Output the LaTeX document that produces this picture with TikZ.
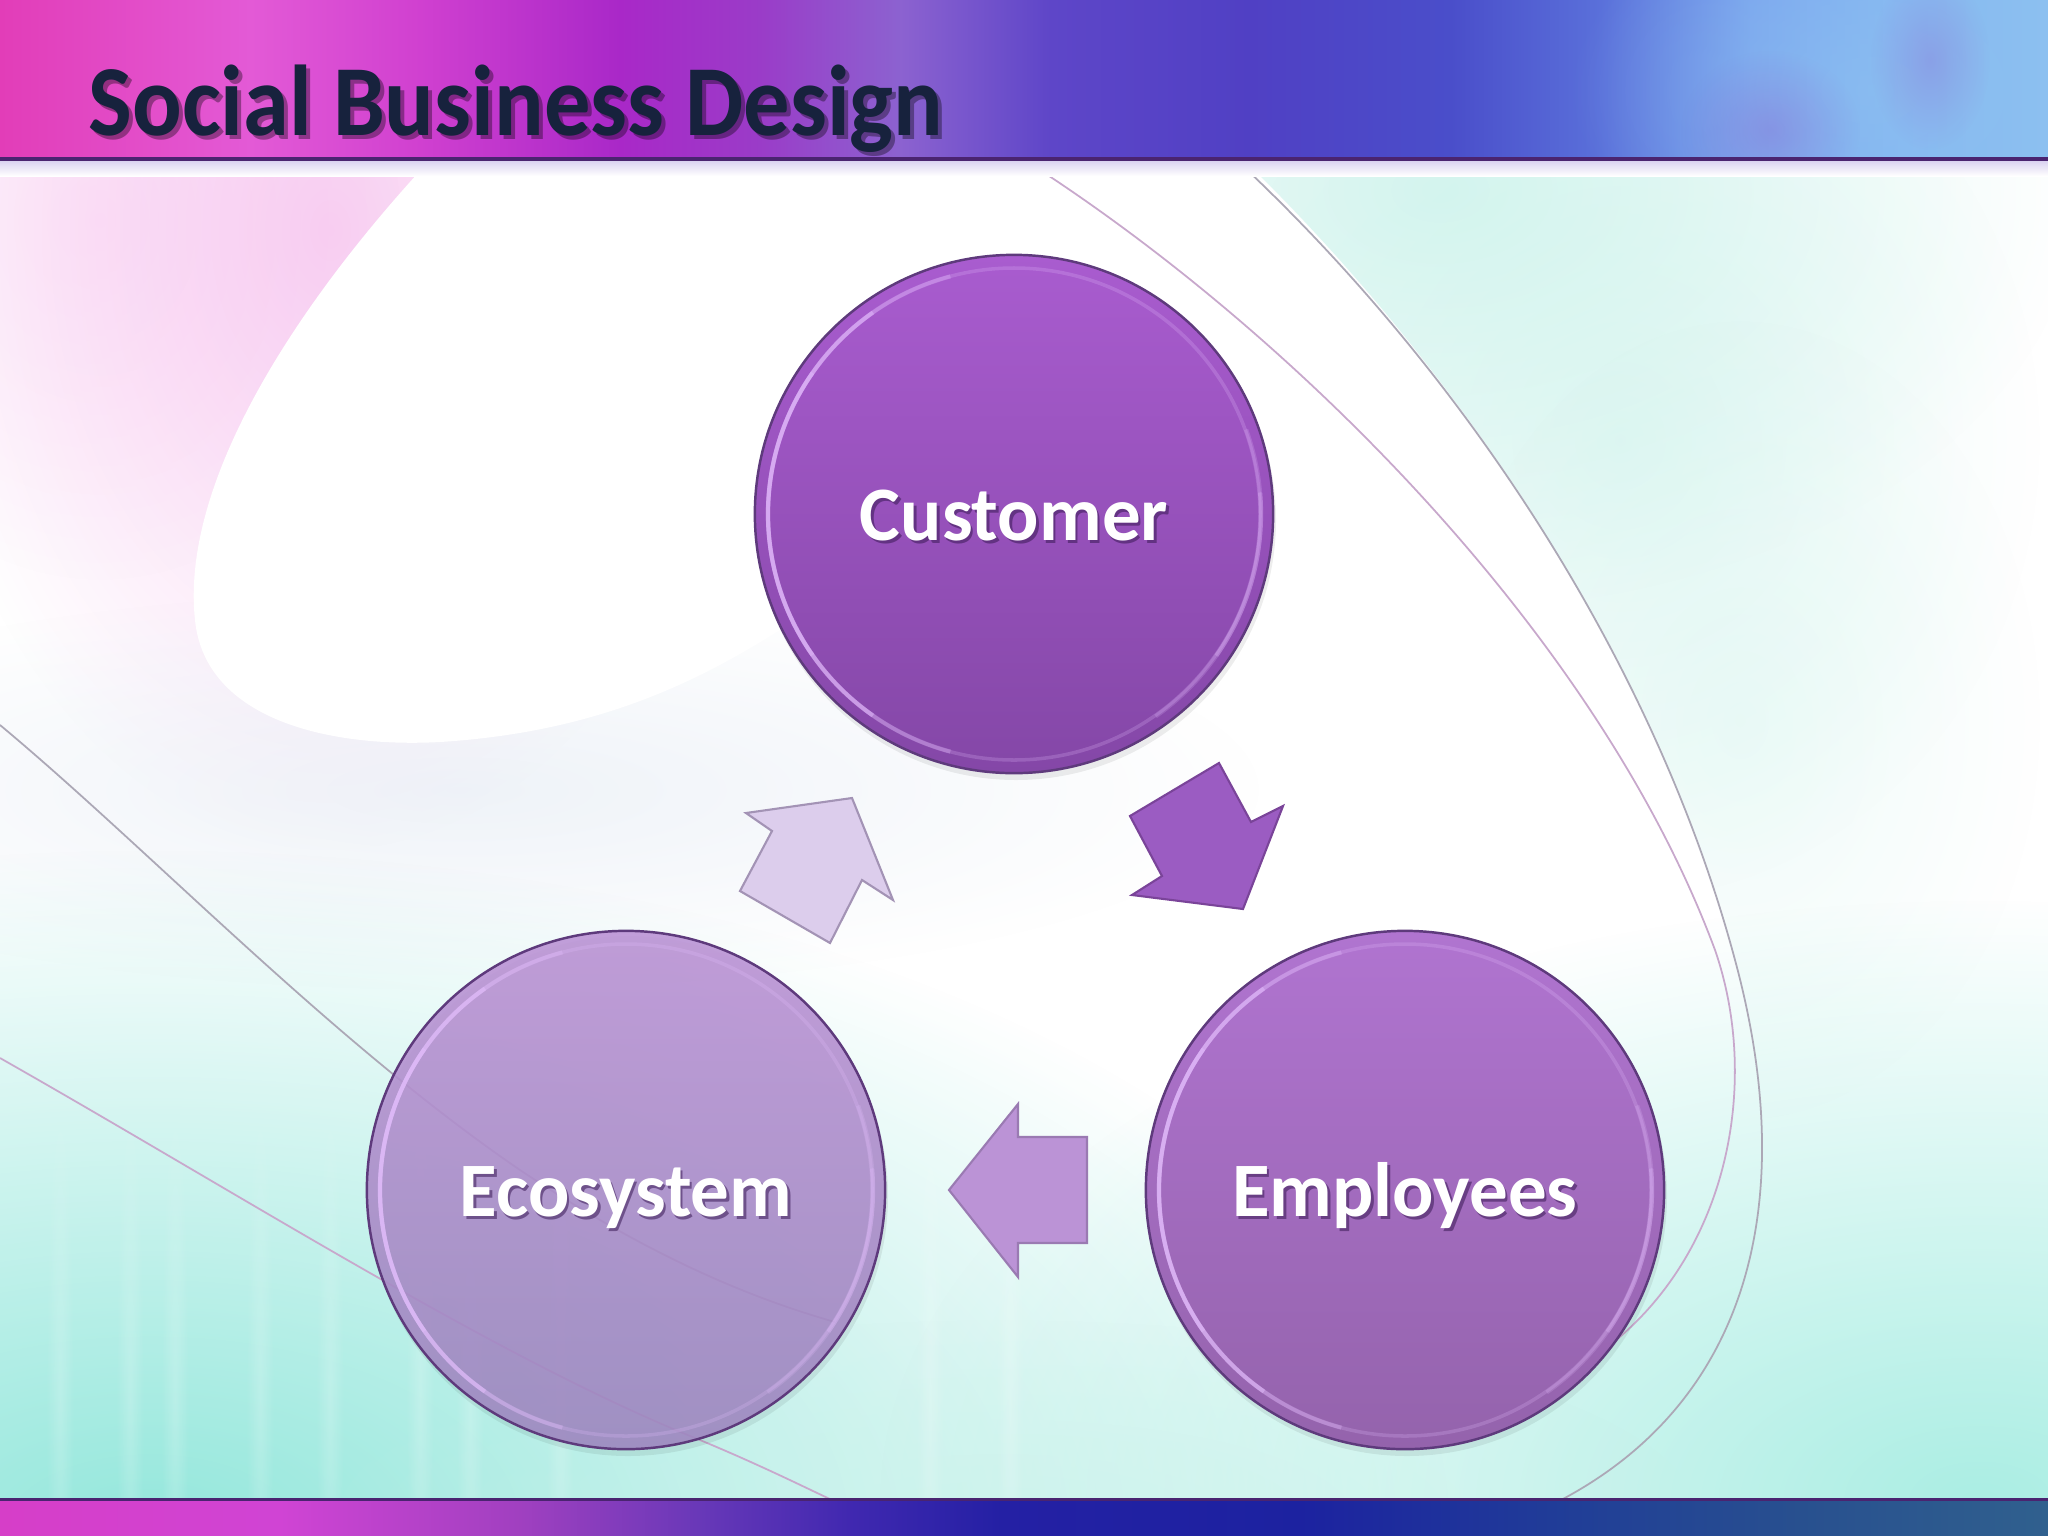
\documentclass[tikz,border=0pt]{standalone}
\usepackage{fontspec}
\setmainfont{Carlito}
\usepackage{graphicx}
\usetikzlibrary{fadings}

\definecolor{hA}{HTML}{E23DB8}
\definecolor{hB}{HTML}{E35AD6}
\definecolor{hC}{HTML}{D040D0}
\definecolor{hD}{HTML}{A928C8}
\definecolor{hE}{HTML}{9A3CC8}
\definecolor{hF}{HTML}{8C62D0}
\definecolor{hG}{HTML}{5E46C8}
\definecolor{hH}{HTML}{5040C4}
\definecolor{hI}{HTML}{4A4ECA}
\definecolor{hJ}{HTML}{5A70DA}
\definecolor{hK}{HTML}{7AA4EE}
\definecolor{hL}{HTML}{86B8F2}
\definecolor{hM}{HTML}{8CC0F0}
\definecolor{bA}{HTML}{D63EC8}
\definecolor{bB}{HTML}{D044D4}
\definecolor{bC}{HTML}{A040C0}
\definecolor{bD}{HTML}{6838B8}
\definecolor{bE}{HTML}{4028B0}
\definecolor{bF}{HTML}{2420A4}
\definecolor{bG}{HTML}{1C22A0}
\definecolor{bH}{HTML}{203C98}
\definecolor{bI}{HTML}{28508F}
\definecolor{bJ}{HTML}{30608E}
\definecolor{hdrLine}{HTML}{4A2470}
\definecolor{hdrGlow}{HTML}{D8D0F0}
\definecolor{titleCol}{HTML}{17223D}
\definecolor{pinkA}{HTML}{F5B0EA}
\definecolor{greyBlue}{HTML}{E4EBF4}
\definecolor{tealA}{HTML}{8EE6DA}
\definecolor{tealB}{HTML}{A6EDE2}
\definecolor{tealC}{HTML}{C8F2EA}
\definecolor{curveA}{HTML}{C8A8CC}
\definecolor{curveB}{HTML}{ACA8B6}
\definecolor{cTopA}{HTML}{A95CCF}
\definecolor{cBotA}{HTML}{8447A7}
\definecolor{cTopB}{HTML}{B074D0}
\definecolor{cBotB}{HTML}{9463AC}
\definecolor{cTopC}{HTML}{BC94D6}
\definecolor{cBotC}{HTML}{9E88C0}
\definecolor{bubbleEdge}{HTML}{5E3A7C}
\definecolor{rimLight}{HTML}{E6C0FF}
\definecolor{lblShadow}{HTML}{3A1A55}
\definecolor{arrDark}{HTML}{9B5CC2}
\definecolor{arrDarkEdge}{HTML}{7A4499}
\definecolor{arrMid}{HTML}{BB93D6}
\definecolor{arrMidEdge}{HTML}{9A7AB2}
\definecolor{arrLight}{HTML}{DCCDEC}
\definecolor{arrLightEdge}{HTML}{A393B5}

\tikzfading[name=softblob, inner color=transparent!0, outer color=transparent!100]

\begin{document}
\begin{tikzpicture}[x=0.01cm, y=0.01cm,
  bubble/.style={circle, minimum size=5.18cm, inner sep=0pt, draw=bubbleEdge, line width=0.7pt},
  lbl/.style={text=white, font=\bfseries\fontsize{21.9}{26}\selectfont, inner sep=0pt, anchor=base},
  lblsh/.style={lbl, text=lblShadow, opacity=0.55},
  ttl/.style={text=titleCol, font=\bfseries\fontsize{28.6}{34}\selectfont, inner sep=0pt, anchor=base west},
  ttlsh/.style={ttl, text=black, opacity=0.35},
  rim/.style={line width=1.0pt, rimLight, opacity=0.22},
  rimhi/.style={line width=1.2pt, rimLight},
  shadowfill/.style={fill=black, opacity=0.07},
  blkarrow/.style={line width=0.6pt, line join=miter},
  bgcurve/.style={line width=0.5pt}
]
\useasboundingbox (0,0) rectangle (2048,-1536);
\fill[white] (0,0) rectangle (2048,-1536);

% ---------- background tints ----------
\fill[pinkA, path fading=softblob, opacity=0.6] (330,-230) ellipse (420 and 620);
\fill[pinkA, path fading=softblob, opacity=0.25] (100,-220) ellipse (300 and 360);
\fill[greyBlue, path fading=softblob, opacity=0.6] (460,-790) ellipse (800 and 200);
\fill[white] (430,-160) .. controls (300,-300) and (180,-480) .. (195,-620)
   .. controls (205,-720) and (330,-748) .. (440,-742)
   .. controls (600,-732) and (700,-680) .. (780,-630)
   -- (1250,-300) -- (1250,-160) -- cycle;
% teal wash to the right of the curves
\begin{scope}
  \clip (1244,-160) .. controls (1480,-390) and (1660,-680) .. (1735,-960)
     .. controls (1800,-1200) and (1750,-1400) .. (1561,-1500)
     -- (2048,-1500) -- (2048,-160) -- cycle;
  \fill[tealC, path fading=softblob, opacity=0.75] (1440,-190) ellipse (640 and 420);
  \fill[tealC, path fading=softblob, opacity=0.45] (1620,-440) ellipse (420 and 460);
  \fill[tealC, path fading=softblob, opacity=0.3] (1740,-720) ellipse (300 and 400);
\end{scope}
\fill[tealA, path fading=softblob, opacity=0.95] (150,-1530) ellipse (1300 and 680);
\fill[tealB, path fading=softblob, opacity=0.95] (1980,-1500) ellipse (1100 and 600);
\fill[tealC, path fading=softblob, opacity=0.5] (1000,-1520) ellipse (700 and 200);
\foreach \sx in {60,130,175,260,330,420,470,560,930,1010}
  \fill[white, path fading=softblob, opacity=0.2] (\sx,-1400) ellipse (14 and 300);

% ---------- background curves ----------
\coordinate (xa) at (1244,-167);
\draw[bgcurve, curveB] (xa) .. controls (1480,-390) and (1660,-680) .. (1735,-960)
   .. controls (1800,-1200) and (1750,-1400) .. (1561,-1500);
\coordinate (ya) at (1040,-170);
\draw[bgcurve, curveA] (ya) .. controls (1300,-340) and (1600,-640) .. (1715,-950)
   .. controls (1760,-1080) and (1730,-1250) .. (1610,-1345);
\coordinate (ca) at (0,-725);
\draw[bgcurve, curveB] (ca) .. controls (150,-850) and (330,-1040) .. (520,-1170)
   .. controls (640,-1250) and (740,-1295) .. (835,-1322);
\coordinate (da) at (0,-1058);
\draw[bgcurve, curveA] (da) .. controls (250,-1200) and (500,-1360) .. (700,-1440)
   .. controls (760,-1465) and (800,-1485) .. (832,-1500);

% ---------- header band ----------
\foreach \xa/\xb/\ca/\cb in {0/250/hA/hB, 250/420/hB/hC, 420/620/hC/hD, 620/760/hD/hE, 760/900/hE/hF, 900/1050/hF/hG, 1050/1250/hG/hH, 1250/1450/hH/hI, 1450/1600/hI/hJ, 1600/1750/hJ/hK, 1750/1900/hK/hL, 1900/2048/hL/hM}
  \shade[left color=\ca, right color=\cb] (\xa,0) rectangle ({\xb+1},-160);
\begin{scope}
  \clip (0,0) rectangle (2048,-158);
  \fill[hM, path fading=softblob, opacity=0.6] (1870,-90) ellipse (300 and 200);
  \fill[hF, path fading=softblob, opacity=0.35] (1770,-130) ellipse (90 and 80);
  \fill[hF, path fading=softblob, opacity=0.3] (1930,-60) ellipse (60 and 90);
\end{scope}
\shade[top color=hdrGlow, bottom color=white] (0,-160) rectangle (2048,-176);
\fill[hdrLine] (0,-157) rectangle (2048,-161);

% ---------- bottom band ----------
\foreach \xa/\xb/\ca/\cb in {0/280/bA/bB, 280/520/bB/bC, 520/700/bC/bD, 700/850/bD/bE, 850/1000/bE/bF, 1000/1300/bF/bG, 1300/1550/bG/bH, 1550/1800/bH/bI, 1800/2048/bI/bJ}
  \shade[left color=\ca, right color=\cb] (\xa,-1500) rectangle ({\xb+1},-1536);
\fill[hdrLine] (0,-1498) rectangle (2048,-1501);

% ---------- title ----------
\node[ttlsh] (titlesh) at (92,-139) {\scalebox{0.92}[1]{Social Business Design}};
\node[ttl] (title) at (88,-135) {\scalebox{0.92}[1]{Social Business Design}};

% ---------- circles ----------
\fill[shadowfill] (1016,-520) circle (260);
\fill[shadowfill] (1407,-1196) circle (260);
\fill[shadowfill] (628,-1196) circle (260);

\node[bubble, top color=cTopA, bottom color=cBotA] (cust) at (1014,-514) {};
\node[bubble, top color=cTopB, bottom color=cBotB] (empl) at (1405,-1190) {};
\node[bubble, top color=cTopC, bottom color=cBotC, fill opacity=0.9] (eco) at (626,-1190) {};

\foreach \n in {cust, empl, eco} {
  \draw[rim] (\n.center) circle (246);
  \draw[rimhi, opacity=0.3] ([shift={(105:246)}]\n.center) arc[start angle=105, end angle=255, radius=246];
  \draw[rimhi, opacity=0.45] ([shift={(125:246)}]\n.center) arc[start angle=125, end angle=235, radius=246];
  \draw[rimhi, opacity=0.35] ([shift={(145:246)}]\n.center) arc[start angle=145, end angle=215, radius=246];
  \draw[rimhi, opacity=0.2] ([shift={(-55:247)}]\n.center) arc[start angle=-55, end angle=20, radius=247];
  \draw[rimhi, opacity=0.25] ([shift={(-35:247)}]\n.center) arc[start angle=-35, end angle=5, radius=247];
}

% ---------- labels ----------
\node[lblsh] (custsh) at (1016.5,-543) {Customer};
\node[lbl] (custtxt) at (1014,-540) {Customer};
\node[lblsh] (emplsh) at (1407.5,-1219) {Employees};
\node[lbl] (empltxt) at (1405,-1216) {Employees};
\node[lblsh] (ecosh) at (628.5,-1219) {Ecosystem};
\node[lbl] (ecotxt) at (626,-1216) {Ecosystem};

% ---------- block arrows ----------
% Customer -> Employees
\coordinate (d1) at (1130,-816); \coordinate (d2) at (1219,-763);
\coordinate (d3) at (1251,-822); \coordinate (d4) at (1283,-806);
\coordinate (d5) at (1243,-909); \coordinate (d6) at (1132,-895);
\coordinate (d7) at (1162,-876);
\fill[black, opacity=0.12, shift={(2,-4)}] (d1) -- (d2) -- (d3) -- (d4) -- (d5) -- (d6) -- (d7) -- cycle;
\filldraw[blkarrow, fill=arrDark, draw=arrDarkEdge] (d1) -- (d2) -- (d3) -- (d4) -- (d5) -- (d6) -- (d7) -- cycle;

% Employees -> Ecosystem
\coordinate (l1) at (949,-1190); \coordinate (l2) at (1018,-1104);
\coordinate (l3) at (1018,-1137); \coordinate (l4) at (1087,-1137);
\coordinate (l5) at (1087,-1243); \coordinate (l6) at (1018,-1243);
\coordinate (l7) at (1018,-1277);
\fill[black, opacity=0.10, shift={(2,-4)}] (l1) -- (l2) -- (l3) -- (l4) -- (l5) -- (l6) -- (l7) -- cycle;
\filldraw[blkarrow, fill=arrMid, draw=arrMidEdge] (l1) -- (l2) -- (l3) -- (l4) -- (l5) -- (l6) -- (l7) -- cycle;

% Ecosystem -> Customer
\coordinate (u1) at (740,-891); \coordinate (u2) at (772,-831);
\coordinate (u3) at (746,-813); \coordinate (u4) at (852,-798);
\coordinate (u5) at (893,-900); \coordinate (u6) at (862,-880);
\coordinate (u7) at (830,-943);
\fill[black, opacity=0.10, shift={(2,-4)}] (u1) -- (u2) -- (u3) -- (u4) -- (u5) -- (u6) -- (u7) -- cycle;
\filldraw[blkarrow, fill=arrLight, draw=arrLightEdge] (u1) -- (u2) -- (u3) -- (u4) -- (u5) -- (u6) -- (u7) -- cycle;

\end{tikzpicture}
\end{document}
